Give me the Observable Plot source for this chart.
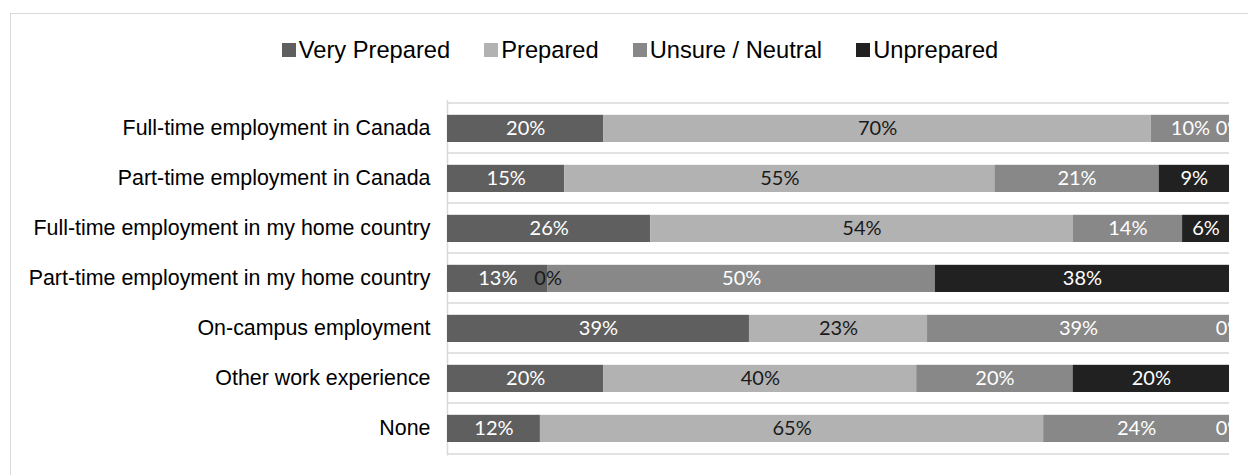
<!DOCTYPE html>
<html>
<head>
<meta charset="utf-8">
<script src="https://cdn.jsdelivr.net/npm/d3@7"></script>
<script src="https://cdn.jsdelivr.net/npm/@observablehq/plot@0.6"></script>
<style>
  html, body { margin: 0; padding: 0; background: #fff; overflow: hidden; }
  #wrap { position: relative; width: 1248px; height: 475px; overflow: hidden; }
  #frame { position: absolute; left: 10px; top: 13px; width: 1400px; height: 600px;
           border-left: 1.5px solid #d9d9d9; border-top: 1.5px solid #d9d9d9; box-sizing: border-box; }
  #legend { position: relative; width: 1280px; height: 80px; padding-top: 20px; box-sizing: border-box;
            display: flex; justify-content: center; align-items: center;
            font-family: "Liberation Sans", Arial, sans-serif; font-size: 23.7px; color: #000; }
  .item { display: flex; align-items: center; margin: 0 17px; }
  .sw { width: 14px; height: 14px; margin-right: 3px; }
  #chart { position: relative; }
</style>
</head>
<body>
<div id="wrap">
  <div id="frame"></div>
  <div id="legend"></div>
  <div id="chart"></div>
</div>
<script>
const categories = [
  "Full-time employment in Canada",
  "Part-time employment in Canada",
  "Full-time employment in my home country",
  "Part-time employment in my home country",
  "On-campus employment",
  "Other work experience",
  "None"
];
const seriesNames = ["Very Prepared", "Prepared", "Unsure / Neutral", "Unprepared"];
const veryPrepared = [20, 15, 26, 13, 39, 20, 12];
const prepared     = [70, 55, 54, 0, 23, 40, 65];
const unsure       = [10, 21, 14, 50, 39, 20, 24];
const unprepared   = [0, 9, 6, 38, 0, 20, 0];
const seriesColors = ["#5f5f5f", "#b2b2b2", "#888888", "#212121"];

const seriesValues = [veryPrepared, prepared, unsure, unprepared];
const data = [];
categories.forEach((c, i) => {
  seriesNames.forEach((s, j) => {
    data.push({category: c, series: s, value: seriesValues[j][i]});
  });
});

// Legend (HTML, above the SVG)
const legend = document.getElementById("legend");
seriesNames.forEach((s, j) => {
  const it = document.createElement("div");
  it.className = "item";
  const sw = document.createElement("span");
  sw.className = "sw";
  sw.style.background = seriesColors[j];
  const t = document.createElement("span");
  t.textContent = s;
  it.appendChild(sw); it.appendChild(t);
  legend.appendChild(it);
});

const H = 395, MT = 20, MB = 19.4;
const bw = (H - MT - MB) / categories.length;
const stackOpts = {x: "value", y: "category", z: "series", order: seriesNames, offset: "normalize"};
const gridStyle = {stroke: "#d9d9d9", strokeWidth: 1.5};

const chart = Plot.plot({
  width: 1248,
  height: H,
  marginTop: MT,
  marginBottom: MB,
  marginLeft: 447,
  marginRight: 19,
  style: {fontFamily: "'Liberation Sans', Arial, sans-serif", fontSize: "21.4px", color: "#000", background: "transparent", overflow: "visible"},
  x: {domain: [0, 1], axis: null},
  y: {domain: categories, padding: 0, label: null, tickSize: 0, tickPadding: 17},
  color: {domain: seriesNames, range: seriesColors},
  marks: [
    Plot.ruleY(categories, {y: d => d, x1: 0, x2: 1, dy: -bw / 2, ...gridStyle}),
    Plot.ruleY(categories.slice(-1), {y: d => d, x1: 0, x2: 1, dy: bw / 2, ...gridStyle}),
    Plot.ruleX([0], gridStyle),
    Plot.barX(data, Plot.stackX({...stackOpts, fill: "series", insetTop: 11.8, insetBottom: 11.0})),
    Plot.text(data, Plot.stackX({...stackOpts,
      text: d => d.series === "Prepared" ? null : `${d.value}%`,
      fill: "#ffffff", fontFamily: "Lato, sans-serif", fontSize: 20, clip: true})),
    Plot.text(data, Plot.stackX({...stackOpts,
      text: d => d.series === "Prepared" ? `${d.value}%` : null,
      fill: "#1a1a1a", fontFamily: "Lato, sans-serif", fontSize: 20, clip: true}))
  ]
});
document.getElementById("chart").appendChild(chart);
</script>
</body>
</html>
